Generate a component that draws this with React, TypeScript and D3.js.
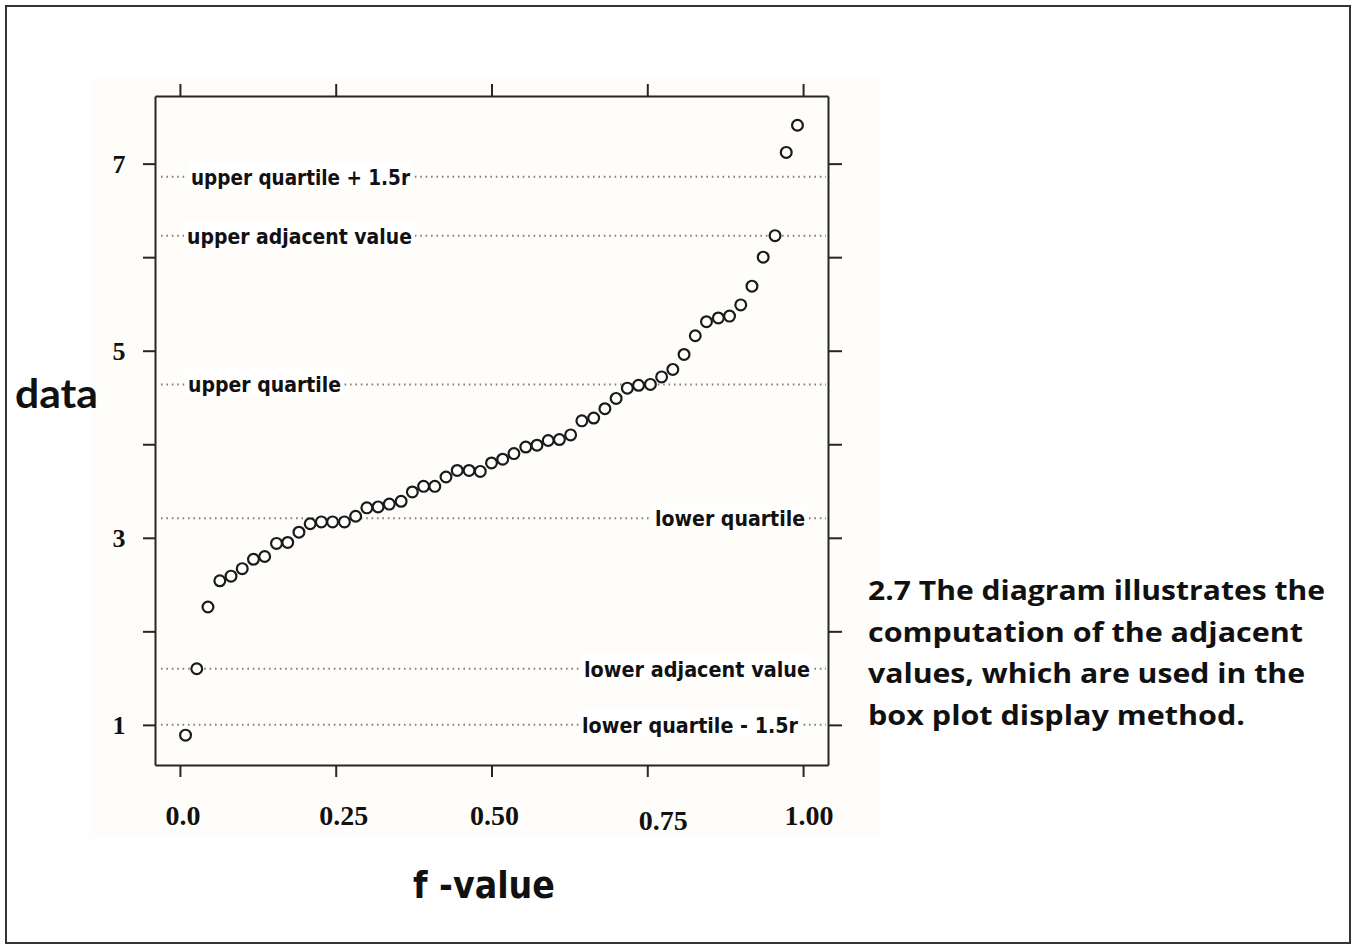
import { useEffect, useRef } from "react";
import * as d3 from "d3";

// f-values (x) and ordered data (y)
const fValues = [
  0.009, 0.027, 0.045, 0.064, 0.082, 0.1, 0.118, 0.136, 0.155, 0.173,
  0.191, 0.209, 0.227, 0.245, 0.264, 0.282, 0.3, 0.318, 0.336, 0.355,
  0.373, 0.391, 0.409, 0.427, 0.445, 0.464, 0.482, 0.5, 0.518, 0.536,
  0.555, 0.573, 0.591, 0.609, 0.627, 0.645, 0.664, 0.682, 0.7, 0.718,
  0.736, 0.755, 0.773, 0.791, 0.809, 0.827, 0.845, 0.864, 0.882, 0.9,
  0.918, 0.936, 0.955, 0.973, 0.991,
];
const dataValues = [
  0.89, 1.6, 2.26, 2.54, 2.59, 2.67, 2.77, 2.8, 2.94, 2.95,
  3.06, 3.15, 3.17, 3.17, 3.17, 3.23, 3.32, 3.33, 3.36, 3.39,
  3.49, 3.55, 3.55, 3.65, 3.72, 3.72, 3.71, 3.8, 3.84, 3.9,
  3.97, 3.99, 4.04, 4.05, 4.1, 4.25, 4.28, 4.38, 4.49, 4.6,
  4.63, 4.64, 4.72, 4.8, 4.96, 5.16, 5.31, 5.35, 5.37, 5.49,
  5.69, 6.0, 6.23, 7.12, 7.41,
];

const xTicks = [0, 0.25, 0.5, 0.75, 1];
const xTickLabels = ["0.0", "0.25", "0.50", "0.75", "1.00"];
const yTicks = [1, 2, 3, 4, 5, 6, 7];
const yTickLabels = ["1", "", "3", "", "5", "", "7"];

const refNames = [
  "upper quartile + 1.5r",
  "upper adjacent value",
  "upper quartile",
  "lower quartile",
  "lower adjacent value",
  "lower quartile - 1.5r",
];
const refValues = [6.86, 6.23, 4.64, 3.21, 1.6, 1.0];

const noteLines = [
  "2.7 The diagram illustrates the",
  "computation of the adjacent",
  "values, which are used in the",
  "box plot display method.",
];

const W = 1356;
const H = 945;

const App = () => {
  const ref = useRef<SVGSVGElement | null>(null);

  useEffect(() => {
    if (!ref.current) return;
    const svg = d3.select(ref.current);
    svg.selectAll("*").remove();

    const left = 155, right = 828, top = 96, bottom = 765;
    const x = d3.scaleLinear().domain([-0.04, 1.04]).range([left, right]);
    const y = d3.scaleLinear().domain([0.571, 7.723]).range([bottom, top]);
    const ink = "#262626";

    // outer frame
    svg.append("rect")
      .attr("x", 0).attr("y", 0).attr("width", W).attr("height", H)
      .attr("fill", "#ffffff");
    svg.append("rect")
      .attr("x", 6).attr("y", 6).attr("width", W - 12).attr("height", H - 8)
      .attr("fill", "none").attr("stroke", "#333").attr("stroke-width", 2);

    // faint scanned backdrop behind the plot
    svg.append("rect")
      .attr("x", 90).attr("y", 78).attr("width", 790).attr("height", 760)
      .attr("fill", "#fffdfa");

    // reference lines with labels
    const labelLayout = [
      { x: 191, anchor: "start", w: 219 },
      { x: 187, anchor: "start", w: 225 },
      { x: 188, anchor: "start", w: 153 },
      { x: 805, anchor: "end", w: 150 },
      { x: 810, anchor: "end", w: 226 },
      { x: 798, anchor: "end", w: 216 },
    ];
    const refG = svg.append("g");
    refValues.forEach((v, i) => {
      const py = y(v);
      refG.append("line")
        .attr("x1", left + 6).attr("x2", right - 2)
        .attr("y1", py).attr("y2", py)
        .attr("stroke", "#808080").attr("stroke-width", 2)
        .attr("stroke-dasharray", "1.6 3.8");
      const lay = labelLayout[i];
      const x0 = lay.anchor === "start" ? lay.x : lay.x - lay.w;
      refG.append("rect")
        .attr("x", x0 - 3).attr("y", py - 15)
        .attr("width", lay.w + 6).attr("height", 26)
        .attr("fill", "#ffffff");
      refG.append("text")
        .attr("x", x0).attr("y", py + 8)
        .attr("font-family", "'DejaVu Sans Condensed', 'DejaVu Sans', sans-serif")
        .attr("font-weight", "bold")
        .attr("font-size", 22)
        .attr("fill", "#111")
        .attr("textLength", lay.w)
        .attr("lengthAdjust", "spacingAndGlyphs")
        .text(refNames[i]);
    });

    // axes (ticks on all four sides)
    const axisStyle = (g: any) => {
      g.select(".domain").attr("stroke", ink).attr("stroke-width", 2);
      g.selectAll(".tick line").attr("stroke", ink).attr("stroke-width", 2);
      g.selectAll(".tick text").remove();
    };
    svg.append("g").attr("transform", `translate(0,${bottom})`)
      .call(d3.axisBottom(x).tickValues(xTicks).tickSize(12).tickSizeOuter(0))
      .call(axisStyle);
    svg.append("g").attr("transform", `translate(0,${top})`)
      .call(d3.axisTop(x).tickValues(xTicks).tickSize(12).tickSizeOuter(0))
      .call(axisStyle);
    svg.append("g").attr("transform", `translate(${left},0)`)
      .call(d3.axisLeft(y).tickValues(yTicks).tickSize(12).tickSizeOuter(0))
      .call(axisStyle);
    svg.append("g").attr("transform", `translate(${right},0)`)
      .call(d3.axisRight(y).tickValues(yTicks).tickSize(14).tickSizeOuter(0))
      .call(axisStyle);

    // tick labels
    const xLabelShift = [3, 8, 3, 16, 6];
    const xLabelDrop = [0, 0, 0, 5, 0];
    svg.append("g").selectAll("text")
      .data(xTicks)
      .join("text")
      .attr("x", (d, i) => x(d) + xLabelShift[i])
      .attr("y", (d, i) => 825 + xLabelDrop[i])
      .attr("text-anchor", "middle")
      .attr("font-family", "'Liberation Serif', serif")
      .attr("font-weight", "bold")
      .attr("font-size", 28)
      .attr("fill", "#111")
      .text((d, i) => xTickLabels[i]);

    svg.append("g").selectAll("text")
      .data(yTicks)
      .join("text")
      .attr("x", 119)
      .attr("y", (d) => y(d) + 9)
      .attr("text-anchor", "middle")
      .attr("font-family", "'Liberation Serif', serif")
      .attr("font-weight", "bold")
      .attr("font-size", 26)
      .attr("fill", "#111")
      .text((d, i) => yTickLabels[i]);

    // points
    svg.append("g")
      .selectAll("circle")
      .data(d3.range(fValues.length))
      .join("circle")
      .attr("cx", (i) => x(fValues[i]))
      .attr("cy", (i) => y(dataValues[i]))
      .attr("r", 5.4)
      .attr("fill", "#ffffff")
      .attr("stroke", "#1a1a1a")
      .attr("stroke-width", 2.2);

    // axis titles
    svg.append("text")
      .attr("x", 15).attr("y", 408)
      .attr("font-family", "Lato, sans-serif")
      .attr("font-weight", "bold")
      .attr("font-size", 40)
      .attr("fill", "#111")
      .attr("textLength", 83)
      .attr("lengthAdjust", "spacingAndGlyphs")
      .text("data");

    svg.append("text")
      .attr("x", 413).attr("y", 898)
      .attr("font-family", "'DejaVu Sans Condensed', 'DejaVu Sans', sans-serif")
      .attr("font-weight", "bold")
      .attr("font-size", 38)
      .attr("fill", "#111")
      .attr("textLength", 142)
      .attr("lengthAdjust", "spacingAndGlyphs")
      .text("f -value");

    // caption
    const noteWidths = [457, 435, 437, 377];
    svg.append("g").selectAll("text")
      .data(noteLines)
      .join("text")
      .attr("x", 868)
      .attr("y", (d, i) => 600 + i * 41.7)
      .attr("font-family", "'Open Sans', sans-serif")
      .attr("font-weight", "bold")
      .attr("font-size", 26)
      .attr("fill", "#111")
      .attr("textLength", (d, i) => noteWidths[i])
      .attr("lengthAdjust", "spacingAndGlyphs")
      .text((d) => d);
  }, []);

  return (
    <div style={{ position: "absolute", left: 0, top: 0 }}>
      <svg ref={ref} width={W} height={H} viewBox={`0 0 ${W} ${H}`} style={{ display: "block" }} />
    </div>
  );
};

export default App;
